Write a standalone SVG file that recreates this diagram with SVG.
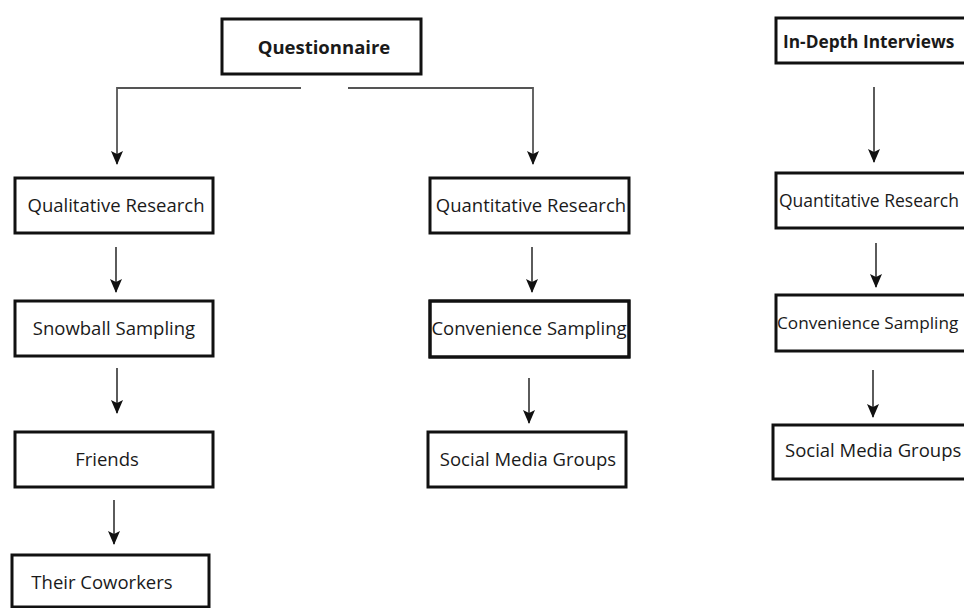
<svg xmlns="http://www.w3.org/2000/svg" width="964" height="608" viewBox="0 0 964 608">
<defs>
<style>
.box{fill:#fff;stroke:#111;stroke-width:3}
.t{font-family:"Open Sans","Noto Sans","Liberation Sans",sans-serif;font-size:18.5px;fill:#1a1a1a;text-anchor:middle}
.b{font-weight:bold;font-size:18.5px}
.s{text-anchor:start}
.ln{fill:none;stroke:#333;stroke-width:1.6}
.hl{fill:none;stroke:#555;stroke-width:1.8}
</style>
<marker id="ah" markerUnits="userSpaceOnUse" markerWidth="14" markerHeight="12" viewBox="0 0 14 12" refX="13" refY="6" orient="auto">
<path d="M0,0 L14,6 L0,12 L3,6 z" fill="#111"/>
</marker>
<clipPath id="c1"><rect x="430" y="301" width="199" height="56"/></clipPath>
</defs>
<rect width="964" height="608" fill="#fff"/>
<g id="connectors">
<polyline class="hl" points="301,88 117,88 117,164" marker-end="url(#ah)"/>
<polyline class="hl" points="348,88 533,88 533,164" marker-end="url(#ah)"/>
<line class="ln" x1="116" y1="247" x2="116" y2="292" marker-end="url(#ah)"/>
<line class="ln" x1="117" y1="368" x2="117" y2="413" marker-end="url(#ah)"/>
<line class="ln" x1="114" y1="500" x2="114" y2="544" marker-end="url(#ah)"/>
<line class="ln" x1="532" y1="247" x2="532" y2="292" marker-end="url(#ah)"/>
<line class="ln" x1="529" y1="378" x2="529" y2="423" marker-end="url(#ah)"/>
<line class="ln" x1="874" y1="87" x2="874" y2="162" marker-end="url(#ah)"/>
<line class="ln" x1="876" y1="243" x2="876" y2="287" marker-end="url(#ah)"/>
<line class="ln" x1="873" y1="370" x2="873" y2="417" marker-end="url(#ah)"/>
</g>
<g id="questionnaire">
<rect class="box" x="222" y="19" width="199" height="55"/>
<text class="t b" x="324" y="54">Questionnaire</text>
</g>
<g id="qualitative">
<rect class="box" x="15" y="178" width="198" height="55"/>
<text class="t" x="116" y="212">Qualitative Research</text>
</g>
<g id="snowball">
<rect class="box" x="15" y="301" width="198" height="55"/>
<text class="t" x="114" y="335">Snowball Sampling</text>
</g>
<g id="friends">
<rect class="box" x="15" y="432" width="198" height="55"/>
<text class="t" x="107" y="466">Friends</text>
</g>
<g id="coworkers">
<rect class="box" x="12" y="555" width="197" height="52"/>
<text class="t" x="102" y="589">Their Coworkers</text>
</g>
<g id="quantitative1">
<rect class="box" x="430" y="178" width="199" height="55"/>
<text class="t" x="531" y="212">Quantitative Research</text>
</g>
<g id="convenience1">
<rect class="box" x="430" y="301" width="199" height="56"/>
<text class="t" x="529" y="335" clip-path="url(#c1)">Convenience Sampling</text>
<rect x="430" y="301" width="199" height="56" fill="none" stroke="#111" stroke-width="3"/>
</g>
<g id="social1">
<rect class="box" x="428" y="432" width="198" height="55"/>
<text class="t" x="528" y="466">Social Media Groups</text>
</g>
<g id="indepth">
<rect class="box" x="776" y="18" width="200" height="45"/>
<text class="t b s" x="783" y="48" style="font-size:17.3px">In-Depth Interviews</text>
</g>
<g id="quantitative2">
<rect class="box" x="776" y="173" width="200" height="55"/>
<text class="t s" x="779" y="207" style="font-size:17.5px">Quantitative Research</text>
</g>
<g id="convenience2">
<rect class="box" x="776" y="295" width="200" height="56"/>
<text class="t s" x="777" y="329" style="font-size:17.2px">Convenience Sampling</text>
</g>
<g id="social2">
<rect class="box" x="773" y="425" width="200" height="54"/>
<text class="t s" x="785" y="457">Social Media Groups</text>
</g>
</svg>
